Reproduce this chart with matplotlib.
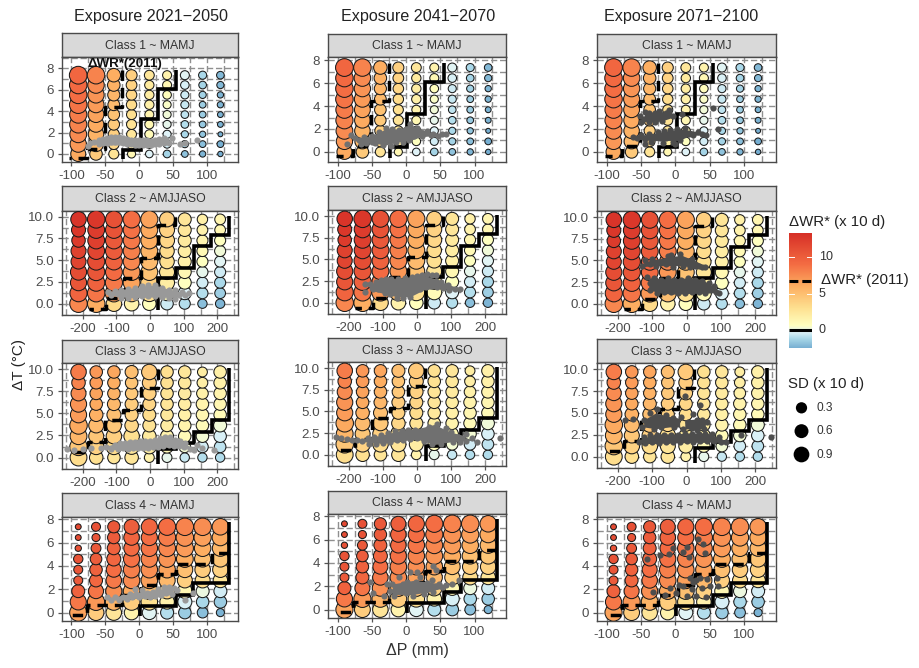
import numpy as np
import matplotlib
matplotlib.use('Agg')
import matplotlib.pyplot as plt
from matplotlib.colors import LinearSegmentedColormap, Normalize
from matplotlib.ticker import MultipleLocator, FormatStrFormatter

plt.rcParams['font.family'] = ['Liberation Sans', 'DejaVu Sans']
plt.rcParams['axes.unicode_minus'] = False

W, H = 919, 668

periods = ['Exposure 2021\u22122050', 'Exposure 2041\u22122070', 'Exposure 2071\u22122100']
strips = ['Class 1 ~ MAMJ', 'Class 2 ~ AMJJASO', 'Class 3 ~ AMJJASO', 'Class 4 ~ MAMJ']

dp_mamj = [-90, -63.75, -37.5, -11.25, 15, 41.25, 67.5, 93.75, 120]
dp_amj = [-212, -159.5, -107, -54.5, -2, 50.5, 103, 155.5, 208]
dt_mamj = [0, 0.92, 1.84, 2.76, 3.68, 4.6, 5.52, 6.44, 7.36]
dt_amj = [0, 1.21, 2.42, 3.64, 4.85, 6.06, 7.27, 8.48, 9.7]

# rows listed from lowest dT to highest dT
wr_c1 = [[6.2, 4.4, 2.8, 1.2, -.3, -1.3, -1.9, -2.3, -2.6],
         [7.0, 5.2, 3.5, 2, .6, -.5, -1.4, -2, -2.5],
         [7.6, 5.7, 4, 2.5, 1, -.3, -1.2, -1.8, -2.5],
         [8.0, 6.1, 4.4, 2.8, 1.2, -.1, -1, -1.7, -2.4],
         [8.3, 6.5, 4.8, 3.0, 1.5, .2, -.8, -1.6, -2.4],
         [8.7, 6.9, 5.2, 3.3, 1.8, .5, -.7, -1.5, -2.3],
         [9.0, 7.2, 5.5, 3.6, 2.1, .8, -.6, -1.4, -2.3],
         [9.3, 7.6, 5.8, 3.8, 2.3, 1.2, -.4, -1.3, -2.2],
         [9.5, 8, 6, 4, 2.5, 1.5, -.2, -1.2, -2.2]]
sd_c1 = [[.55, .3, .16, .08, .07, .07, .05, .04, .02],
         [.72, .55, .2, .13, .09, .08, .06, .05, .05],
         [.8, .6, .22, .15, .1, .08, .06, .04, .01],
         [.85, .62, .24, .16, .1, .08, .07, .05, .03],
         [.85, .65, .25, .16, .1, .08, .07, .05, .03],
         [.9, .68, .26, .18, .12, .08, .08, .05, .04],
         [.9, .72, .28, .19, .12, .09, .08, .06, .04],
         [.9, .75, .3, .2, .12, .1, .09, .07, .06],
         [.95, .9, .4, .22, .15, .1, .1, .08, .07]]
wr_c2 = [[7.8, 6, 3.4, 1.6, .7, -.6, -1, -2, -2.3],
         [9.6, 8.6, 7, 5, 3, 1, -.3, -1, -1.5],
         [10.6, 9.8, 8.4, 6.5, 4, 2, .6, -.5, -1.2],
         [11.2, 10.6, 9.2, 7, 4.8, 2.6, 1.2, -.1, -.6],
         [11.8, 11.2, 9.8, 7.8, 5.2, 3, 1.8, .6, -.2],
         [12, 11.8, 10.2, 8.2, 5.6, 3.2, 2, 1.1, .2],
         [12.5, 12.2, 10.4, 8.5, 6, 3.5, 2.3, 1.4, .6],
         [12.8, 12.4, 10.8, 8.8, 6.2, 3.8, 2.5, 1.6, 1.2],
         [13, 12.8, 11, 9, 6.5, 4, 2.6, 1.8, 1.4]]
sd_c2 = [[.9, .9, .6, .5, .4, .3, .22, .12, .12],
         [.85, .9, .9, .85, .8, .55, .35, .22, .2],
         [.7, .85, .85, .8, .85, .55, .35, .22, .22],
         [.7, .85, .8, .8, .8, .55, .35, .22, .22],
         [.55, .85, .8, .8, .8, .5, .35, .22, .22],
         [.55, .8, .8, .8, .8, .5, .35, .22, .22],
         [.4, .8, .8, .8, .8, .55, .35, .22, .22],
         [.45, .8, .8, .8, .8, .55, .35, .2, .2],
         [.6, .9, .8, .85, .85, .55, .35, .18, .2]]
wr_c3 = [[3.2, 3, 2.6, 2.6, 1.6, -.1, -.7, -1, -1.1],
         [4.6, 3.8, 3.2, 2.6, 2, 1, .3, -.5, -.8],
         [5.5, 4.6, 4, 3, 2.3, 1.6, 1, .3, -.4],
         [6.2, 5.2, 4.5, 3.5, 2.8, 2.1, 1.5, 1, .2],
         [6.8, 5.8, 5.0, 3.9, 3.2, 2.4, 1.8, 1.3, 1],
         [7.2, 6.2, 5.4, 4.2, 3.6, 2.6, 2, 1.5, 1.3],
         [7.6, 6.5, 5.7, 4.4, 3.9, 2.7, 2.2, 1.7, 1.5],
         [8, 6.8, 6, 4.7, 4.2, 2.9, 2.4, 1.9, 1.7],
         [8.3, 7, 6.3, 5, 4.4, 3, 2.5, 2, 1.8]]
sd_c3 = [[.8, .4, .3, .4, .15, .15, .12, .12, .12],
         [.9, .6, .6, .55, .45, .3, .25, .25, .25],
         [.8, .55, .6, .6, .4, .35, .3, .3, .3],
         [.9, .55, .55, .4, .35, .3, .3, .3, .35],
         [.7, .4, .45, .35, .35, .3, .3, .3, .3],
         [.7, .3, .35, .35, .35, .3, .3, .3, .3],
         [.55, .3, .3, .3, .4, .3, .3, .25, .3],
         [.4, .3, .3, .3, .45, .3, .3, .2, .3],
         [.6, .3, .3, .35, .6, .3, .3, .15, .3]]
wr_c4 = [[6.5, 4.2, 2.6, 1.5, -.2, -1, -1.6, -2, -2.4],
         [8.5, 7, 5.6, 4.2, 3, 1.6, -.4, -1.2, -1.6],
         [9.8, 8.6, 7.4, 6.2, 5, 3.8, 1.2, .1, -.5],
         [10.2, 9.4, 8.4, 7.6, 6.6, 5.4, 4, 3.2, 2.6],
         [10.6, 9.8, 9, 8.2, 7.4, 6.5, 5, 4.2, 3.8],
         [10.8, 10.1, 9.5, 8.8, 8, 7.2, 6, 5, 4.6],
         [11, 10.4, 9.8, 9.2, 8.6, 7.8, 6.8, 6, 5.4],
         [11.3, 10.7, 10.2, 9.6, 9, 8.3, 7.3, 6.6, 6.2],
         [11.5, 11, 10.5, 10, 9.5, 9, 8, 7.5, 7]]
sd_c4 = [[.85, .65, .6, .5, .45, .35, .3, .2, .08],
         [.7, .85, .8, .8, .75, .5, .45, .3, .3],
         [.35, .55, .7, .75, .75, .6, .5, .35, .35],
         [.1, .35, .6, .75, .75, .7, .55, .55, .5],
         [.1, .3, .55, .75, .75, .75, .65, .6, .6],
         [.12, .25, .45, .7, .75, .8, .8, .7, .7],
         [.04, .15, .35, .6, .75, .8, .85, .75, .7],
         [.03, .08, .3, .6, .7, .85, .9, .85, .75],
         [.03, .1, .28, .55, .7, .85, .9, .9, .75]]

# zero contour (solid) and 2011 contour (dashed)
solid_c1 = [(55, 7.8), (55, 6.1), (28, 6.1), (28, 3.3), (2, 3.3), (2, .4), (-24, .4), (-24, -.5)]
dash_c1 = [(-25, 7.8), (-25, 4.4), (-51, 4.4), (-51, .5), (-77, .5), (-77, -.4), (-103, -.4)]
solid_c2 = [(235, 10.1), (235, 7.9), (181, 7.9), (181, 6.6), (130, 6.6), (130, 4.1), (77, 4.1), (77, 3), (25, 3), (25, -.7)]
dash_c2 = [(75, 10), (75, 9), (25, 9), (25, 5.3), (-26, 5.3), (-26, 3), (-78, 3), (-78, .6), (-130, .6), (-130, -.6), (-182, -.6)]
solid_c3 = [(235, 10.1), (235, 4.2), (183, 4.2), (183, 2.9), (130, 2.9), (130, 1.7), (78, 1.7), (78, 1), (25, 1), (25, -.7)]
dash_c3 = [(23, 10), (23, 7.9), (-26, 7.9), (-26, 5.4), (-80, 5.4), (-80, 4.2), (-133, 4.2), (-133, 1.8), (-183, 1.8), (-183, .6), (-235, .6)]
solid_c4 = [(133, 7.8), (133, 2.5), (80, 2.5), (80, 1.5), (55, 1.5), (55, .6), (1, .6), (1, -.3)]
dash_c4 = [(133, 5.1), (107, 5.1), (107, 4.2), (55, 4.2), (55, 3.3), (28, 3.3), (28, 2.4), (3, 2.4), (3, 1.5), (-25, 1.5), (-25, .65), (-77, .65), (-77, -.2), (-103, -.2)]

# exposure clouds (dP, dT)
exp_c1_p1 = [(-76,.7),(-72,1.0),(-66,1.1),(-60,1.3),(-54,1.4),(-48,1.5),(-42,1.6),(-36,1.6),(-30,1.6),(-24,1.5),(-18,1.4),(-12,1.3),(-6,1.3),(0,1.3),(6,1.3),(12,1.3),(18,1.25),(24,1.3),(30,1.4),(36,1.5),(40,1.3),(44,1.0),(-60,.9),(-54,1.0),(-48,1.0),(-42,1.1),(-36,1.1),(-30,1.1),(-24,1.0),(-18,.95),(-12,.9),(-6,.85),(0,.8),(6,.8),(12,.8),(18,.85),(24,.9),(30,.95),(36,1.0),(48,1.5),(60,.9),(68,1.0),(85,1.3)]
exp_c1_p2 = [(-86,.7),(-81,1.45),(-74,1.2),(-68,1.0),(-62,1.3),(-56,1.0),(-50,1.4),(-46,.8),(-40,1.7),(-38,1.1),(-34,.6),(-30,2.1),(-28,1.5),(-26,1.0),(-22,.5),(-20,2.0),(-18,1.4),(-14,.9),(-10,1.9),(-8,1.4),(-4,.9),(0,2.0),(2,1.5),(4,1.0),(6,2.4),(10,1.9),(12,1.4),(16,2.1),(20,1.7),(24,1.4),(30,1.8),(36,1.5),(40,1.6),(46,1.4),(52,1.6),(58,1.6),(-66,.7),(-58,.75),(-50,.9)]
exp_c1_p3 = [(-52,3.1),(-46,2.9),(-44,3.5),(-38,3.4),(-34,3.0),(-30,3.4),(-24,3.6),(-20,3.2),(-14,3.4),(-10,3.7),(-4,3.1),(-38,2.6),(-30,2.6),(-20,2.7),(-50,2.6),(10,3.3),(-62,1.3),(-56,1.2),(-50,1.5),(-44,1.1),(-38,1.6),(-32,1.2),(-26,1.7),(-22,1.2),(-16,1.8),(-14,1.2),(-8,1.9),(-6,1.4),(-4,.9),(2,2.0),(4,1.5),(6,1.0),(12,1.6),(14,2.1),(20,1.6),(26,1.5),(32,1.7),(38,1.6),(44,1.5),(-45,.7),(55,3.8),(62,2.0),(-35,.9),(-18,.8),(0,.7)]
exp_c2_p1 = [(-125,1.3),(-105,1.5),(-85,1.6),(-65,1.7),(-45,1.8),(-25,2.0),(-5,2.1),(15,2.1),(35,1.8),(55,1.6),(75,1.6),(95,1.4),(115,1.2),(-115,.95),(-95,1.1),(-75,1.1),(-55,1.2),(-35,1.3),(-15,1.4),(5,1.4),(25,1.3),(45,1.2),(65,1.1),(85,1.0),(105,1.0),(-85,.7),(-65,.7),(-45,.75),(-25,.85),(-5,.85),(15,.85),(35,.8),(55,.65),(75,.55)]
exp_c2_p2 = [(-153,2.2),(-153,1.2),(-138,2.2),(-130,1.6),(-120,2.4),(-115,1.6),(-105,2.6),(-100,1.8),(-95,1.1),(-90,2.7),(-85,1.9),(-80,1.0),(-75,2.7),(-70,2.0),(-65,1.2),(-60,.6),(-55,2.8),(-50,2.1),(-45,1.4),(-40,.6),(-35,2.9),(-30,2.2),(-25,1.5),(-20,.7),(-15,3.0),(-10,2.3),(-5,1.5),(0,3.1),(5,2.3),(10,1.6),(15,3.2),(20,2.5),(25,1.8),(30,3.3),(35,2.6),(40,1.9),(45,3.2),(55,3.2),(55,2.5),(60,1.8),(70,2.4),(75,1.7),(90,2.0),(95,1.5),(110,1.6),(125,1.6)]
exp_c2_p3 = [(-130,4.4),(-120,5.0),(-105,4.6),(-100,5.2),(-90,4.4),(-60,4.6),(-55,5.5),(-50,4.9),(-45,5.6),(-40,4.3),(-30,4.8),(-20,5.8),(-15,5.2),(-10,4.4),(0,4.8),(10,4.2),(15,5.2),(25,4.4),(35,4.4),(45,4.2),(55,4.2),(-115,3.1),(-105,2.4),(-105,1.6),(-95,3.0),(-90,1.9),(-85,1.2),(-75,2.8),(-70,2.0),(-65,1.4),(-55,3.0),(-50,2.2),(-45,1.4),(-35,2.8),(-30,2.0),(-25,1.2),(-15,2.8),(-10,2.0),(-5,1.2),(5,3.0),(10,2.2),(15,1.4),(25,2.8),(30,2.1),(35,1.4),(45,2.6),(50,1.9),(55,1.2),(65,2.4),(70,1.7),(80,2.0),(85,1.4),(95,1.3)]
exp_c3_p1 = [(-245,1.0),(-225,.9),(-200,1.0),(-175,1.05),(-145,1.1),(-130,1.2),(-115,1.0),(-105,1.4),(-95,1.0),(-90,1.6),(-80,1.1),(-75,1.7),(-65,1.0),(-60,1.8),(-50,1.1),(-45,1.8),(-35,1.1),(-30,1.9),(-20,1.1),(-15,1.9),(-5,1.1),(0,1.9),(10,1.2),(15,2.0),(25,1.2),(30,2.2),(40,1.3),(45,2.3),(55,1.4),(60,2.3),(70,1.3),(75,2.0),(85,1.3),(90,1.9),(100,1.2),(105,1.6),(120,1.0),(130,.9),(155,1.05),(190,.85),(140,1.4),(-60,1.4),(-30,1.5),(0,1.5),(30,1.7),(60,1.8)]
exp_c3_p2 = [(-237,2.05),(-222,1.9),(-205,1.85),(-190,1.75),(-175,1.7),(-160,1.6),(-145,1.9),(-140,1.3),(-125,2.1),(-120,1.3),(-105,2.3),(-100,1.4),(-85,2.5),(-80,1.5),(-65,2.7),(-60,1.7),(-45,2.8),(-40,1.7),(-25,2.9),(-20,1.8),(-5,2.9),(0,1.9),(15,2.8),(20,1.6),(35,3.2),(40,2.3),(45,1.2),(55,3.0),(60,3.6),(65,2.2),(70,1.2),(85,3.1),(85,2.0),(100,2.6),(105,1.5),(120,2.0),(125,1.5),(145,2.4),(145,1.6),(160,1.9),(175,1.5),(243,1.9),(-65,2.0),(-30,2.3),(5,2.4)]
exp_c3_p3 = [(-138,1.7),(-125,2.3),(-120,1.6),(-105,2.5),(-100,1.7),(-85,2.5),(-80,1.6),(-65,2.5),(-60,1.7),(-45,2.5),(-40,1.7),(-25,2.5),(-20,1.7),(-5,2.6),(0,1.8),(15,2.6),(20,1.7),(35,2.6),(40,1.8),(55,2.6),(60,1.8),(75,2.6),(80,1.8),(95,2.3),(100,1.7),(115,1.7),(-180,4.2),(-155,4.3),(-130,3.4),(-125,4.2),(-105,5.0),(-100,3.9),(-95,3.2),(-85,5.5),(-80,4.4),(-75,3.4),(-60,4.8),(-55,3.8),(-40,4.4),(-35,3.4),(-15,4.5),(-10,3.2),(-3,6.9),(5,4.0),(15,3.3),(20,4.9),(30,4.2),(30,3.0),(40,5.9),(45,4.2),(50,3.2),(60,4.0),(247,2.2),(159,2.5)]
exp_c4_p1 = [(-48,1.3),(-42,1.1),(-36,1.3),(-30,1.1),(-24,1.3),(-18,1.2),(-14,1.6),(-10,1.3),(-6,2.0),(-4,1.6),(0,1.3),(4,1.9),(8,1.4),(12,1.7),(16,1.3),(20,1.8),(24,1.4),(28,2.0),(32,1.5),(36,2.2),(40,1.7),(44,2.2),(48,1.6),(52,2.1),(56,1.9),(68,1.1),(80,1.7)]
exp_c4_p2 = [(-53,2.4),(-48,1.4),(-32,1.2),(-28,2.2),(-24,1.6),(-20,2.2),(-18,1.2),(-11,2.8),(-8,1.8),(-4,2.2),(0,1.4),(2,2.4),(6,3.2),(8,1.9),(10,1.2),(14,2.4),(16,3.2),(18,1.7),(20,2.8),(24,2.0),(26,1.3),(30,2.3),(32,1.8),(36,1.9),(40,3.7),(40,1.5),(44,3.4),(44,2.0),(48,2.2),(52,1.9),(58,2.1),(67,2.2),(77,2.5),(38,2.5)]
exp_c4_p3 = [(33,6.3),(40,5.9),(43,5.1),(-42,4.6),(-23,4.9),(-3,5.5),(11,5.2),(16,5.6),(-10,5.0),(19,4.8),(-33,1.8),(-8,2.1),(1,1.7),(11,2.3),(26,2.6),(36,3.0),(60,3.0),(50,2.3),(62,2.3),(16,1.4),(30,1.4),(45,1.3),(21,3.0),(30,2.8),(24,2.0),(38,2.1),(5,2.4),(-15,1.5),(46,2.9)]

# solid parts of the clouds, read as dP, lower dT edge, upper dT edge
band_c1_p1 = [([-62,-50,-30,0,20,38], [.9,.85,.85,.75,.8,1.0], [1.3,1.5,1.6,1.3,1.25,1.45])]
band_c1_p2 = [([-70,-50,-30,-10,6,20,35,50], [.8,.8,.6,.9,1.0,1.3,1.4,1.4], [1.2,1.4,2.0,2.0,2.4,2.0,1.7,1.6])]
band_c1_p3 = [([-55,-35,-15,5,20,35], [1.1,1.0,1.0,1.0,1.4,1.5], [1.4,1.6,1.8,2.0,1.9,1.7]),
              ([-45,-30,-15,-5], [2.7,2.6,2.8,3.0], [3.4,3.5,3.5,3.4])]
band_c2_p1 = [([-120,-90,-50,-10,20,60,100], [1.0,.8,.7,.75,.8,.7,.95], [1.4,1.6,1.8,2.1,2.1,1.6,1.3])]
band_c2_p2 = [([-140,-100,-60,-20,20,60,100,125], [1.5,1.1,.7,.7,1.5,1.7,1.5,1.5], [2.2,2.6,2.8,3.0,3.2,2.6,2.0,1.7])]
band_c2_p3 = [([-110,-70,-30,10,50,90], [1.6,1.2,1.1,1.2,1.2,1.3], [3,2.9,2.9,3,2.7,1.6]),
              ([-125,-95,-55,-15,25,55], [4.3,4.4,4.4,4.4,4.2,4.1], [4.8,5.1,5.4,5.6,5,4.3])]
band_c3_p1 = [([-140,-100,-50,0,50,100,125], [1.0,.9,.95,1,1.2,1.1,.95], [1.2,1.6,1.9,2,2.3,1.7,1.1])]
band_c3_p2 = [([-155,-100,-50,0,50,100,140], [1.5,1.3,1.6,1.8,1.2,1.5,1.6], [1.9,2.3,2.8,3,3.5,2.6,2.2])]
band_c3_p3 = [([-135,-90,-40,10,60,110], [1.6,1.5,1.6,1.6,1.7,1.6], [2.0,2.6,2.6,2.7,2.7,1.9]),
              ([-125,-90,-50,-20], [3.4,3.2,3.4,3.4], [4.2,5,4.6,4.4]),
              ([-5,25,55], [3.2,3.1,3.3], [4.2,4.3,4.1])]
band_c4_p1 = [([-40,-10,20,50], [1.1,1.2,1.3,1.6], [1.3,1.7,1.9,2.2])]
band_c4_p2 = [([-20,10,30,50], [1.3,1.3,1.5,1.8], [2.2,2.5,2.4,2.2])]
band_c4_p3 = []

wr_all = [wr_c1, wr_c2, wr_c3, wr_c4]
sd_all = [sd_c1, sd_c2, sd_c3, sd_c4]
solid_all = [solid_c1, solid_c2, solid_c3, solid_c4]
dash_all = [dash_c1, dash_c2, dash_c3, dash_c4]
exp_all = [[exp_c1_p1, exp_c1_p2, exp_c1_p3], [exp_c2_p1, exp_c2_p2, exp_c2_p3],
           [exp_c3_p1, exp_c3_p2, exp_c3_p3], [exp_c4_p1, exp_c4_p2, exp_c4_p3]]
band_all = [[band_c1_p1, band_c1_p2, band_c1_p3], [band_c2_p1, band_c2_p2, band_c2_p3],
            [band_c3_p1, band_c3_p2, band_c3_p3], [band_c4_p1, band_c4_p2, band_c4_p3]]

cb_ticks = [0, 5, 10]
sd_legend = [0.3, 0.6, 0.9]

# layout in pixels
col_lr = [(62, 238), (328, 506), (597, 776)]
row_px = [[(33, 57, 162), (34, 57, 162), (34, 57, 162)],
          [(186, 210.5, 315), (186, 210, 314), (186, 211, 315)],
          [(340, 363, 469), (338, 362, 466), (339, 363, 468)],
          [(493, 517, 621), (491, 514, 618), (493, 517, 621)]]
cloud_col = ['#999999', '#707070', '#4d4d4d']
stops = [(-2.6, '#74add1'), (-1.2, '#abd9e9'), (-.3, '#e0f3f8'), (.6, '#ffffbf'),
         (3, '#fee090'), (6, '#fdae61'), (9, '#f46d43'), (13.3, '#d73027')]
vmin, vmax = stops[0][0], stops[-1][0]
cmap = LinearSegmentedColormap.from_list('wr', [((v - vmin) / (vmax - vmin), c) for v, c in stops])
norm = Normalize(vmin, vmax)

def px_axes(l, t, r, b):
    return fig.add_axes([l / W, 1 - b / H, (r - l) / W, (b - t) / H])

def size_of(sd, scale=1.0):
    d_px = np.interp(sd, [0, .1, .3, .6, .9, 1.2], [4.5, 9, 12.5, 15.5, 17.5, 19])
    return (d_px * scale * 0.72) ** 2

fig = plt.figure(figsize=(W / 100, H / 100), dpi=100)
fig.patch.set_facecolor('white')
TC = '#4d4d4d'

for r in range(4):
    mamj = r in (0, 3)
    xs, ys = (dp_mamj, dt_mamj) if mamj else (dp_amj, dt_amj)
    gx, gy = np.meshgrid(xs, ys)
    for c in range(3):
        st, sb, pb = row_px[r][c]
        l, rt = col_lr[c]
        sa = px_axes(l, st, rt, sb)
        sa.set_facecolor('#d9d9d9')
        sa.set_xticks([]); sa.set_yticks([])
        for s in sa.spines.values():
            s.set_color('#4a4a4a'); s.set_linewidth(1.0)
        sa.text(.5, .47, strips[r], ha='center', va='center', fontsize=8.8, color='#333333', transform=sa.transAxes)

        ax = px_axes(l, sb, rt, pb)
        if mamj:
            ax.set_xlim(-114, 146)
            if r == 0 and c == 0:
                ax.set_ylim(-.75, 9.06)
            elif r == 0:
                ax.set_ylim(-.88, 8.28)
            else:
                ax.set_ylim(-.72, 8.2)
            ax.xaxis.set_major_locator(MultipleLocator(50)); ax.xaxis.set_minor_locator(MultipleLocator(25))
            ax.yaxis.set_major_locator(MultipleLocator(2)); ax.yaxis.set_minor_locator(MultipleLocator(1))
            ax.yaxis.set_major_formatter(FormatStrFormatter('%d'))
        else:
            ax.set_xlim(-261, 261)
            ax.set_ylim(-1.3, 10.72)
            ax.xaxis.set_major_locator(MultipleLocator(100)); ax.xaxis.set_minor_locator(MultipleLocator(50))
            ax.yaxis.set_major_locator(MultipleLocator(2.5)); ax.yaxis.set_minor_locator(MultipleLocator(1.25))
            ax.yaxis.set_major_formatter(FormatStrFormatter('%.1f'))
        ax.xaxis.set_major_formatter(FormatStrFormatter('%d'))
        ax.set_axisbelow(True)
        ax.grid(True, which='both', color='#8f8f8f', lw=1.0, ls=(0, (4.5, 2)))
        ax.tick_params(which='major', length=3, width=.9, color='#555555', labelsize=9.6, labelcolor=TC, pad=2.5)
        ax.tick_params(which='minor', length=0)
        for s in ax.spines.values():
            s.set_color('#4a4a4a'); s.set_linewidth(1.0)
        ax.scatter(gx.ravel(), gy.ravel(), s=size_of(np.array(sd_all[r]).ravel()),
                   c=np.array(wr_all[r]).ravel(), cmap=cmap, norm=norm,
                   edgecolors='#1a1a1a', linewidths=.75, zorder=3)
        dx, dy = zip(*dash_all[r])
        ax.plot(dx, dy, color='black', lw=2.5, ls=(0, (3, 2)), zorder=4, solid_joinstyle='miter')
        sx, sy = zip(*solid_all[r])
        ax.plot(sx, sy, color='black', lw=2.6, zorder=4, solid_joinstyle='miter', solid_capstyle='butt')
        for bx, blo, bhi in band_all[r][c]:
            ax.fill_between(bx, blo, bhi, color=cloud_col[c], lw=0, zorder=5)
        ex, ey = zip(*exp_all[r][c])
        ax.scatter(ex, ey, s=(6.2 * .72) ** 2, color=cloud_col[c], linewidths=0, zorder=5)

for x, t in zip([151, 418, 681], periods):
    fig.text(x / W, 1 - 16 / H, t, ha='center', va='center', fontsize=11.6, color='#222222')
fig.text(19 / W, 1 - 365 / H, '\u0394T (\u00b0C)', rotation=90, ha='center', va='center', fontsize=11, color='#222222')
fig.text(417 / W, 1 - 650 / H, '\u0394P (mm)', ha='center', va='center', fontsize=11.5, color='#333333')
fig.text(87 / W, 1 - 64 / H, '\u0394WR*(2011)', ha='left', va='center', fontsize=9.6, color='#111111', fontweight='bold')

# colour legend
fig.text(789 / W, 1 - 222 / H, '\u0394WR* (x 10 d)', ha='left', va='center', fontsize=10.8, color='#222222')
cax = px_axes(789, 233, 812, 348)
cb_lo, cb_hi = -2.47, 13.3
grad = np.linspace(cb_hi, cb_lo, 200).reshape(-1, 1)
cax.imshow(grad, aspect='auto', cmap=cmap, norm=norm, extent=[0, 1, cb_lo, cb_hi])
cax.axis('off')
for v in cb_ticks[1:]:
    cax.plot([0, .2], [v, v], color='white', lw=.7)
    cax.plot([.8, 1], [v, v], color='white', lw=.7)
cax.plot([0, 1], [0, 0], color='black', lw=2.2, solid_capstyle='butt')
cax.plot([0, 1], [6.75, 6.75], color='black', lw=2.2, ls=(0, (2.9, 1.3)))
cax.set_xlim(0, 1); cax.set_ylim(cb_lo, cb_hi)
for v in cb_ticks:
    cax.annotate(str(v), xy=(1, v), xycoords=('axes fraction', 'data'), xytext=(5, 0),
                 textcoords='offset points', va='center', ha='left', fontsize=9, color='#333333')
fig.text(821 / W, 1 - 280 / H, '\u0394WR* (2011)', ha='left', va='center', fontsize=10.8, color='#222222')

# size legend
fig.text(788 / W, 1 - 384 / H, 'SD (x 10 d)', ha='left', va='center', fontsize=10.8, color='#222222')
lax = px_axes(788, 395, 815, 465)
lax.axis('off')
lax.set_xlim(0, 1); lax.set_ylim(3, 0)
lax.scatter([.5] * 3, [.55, 1.55, 2.55], s=size_of(np.array(sd_legend), .9), color='black', linewidths=0, clip_on=False)
for y, v in zip([.55, 1.55, 2.55], sd_legend):
    lax.annotate(f'{v:.1f}', xy=(1, y), xycoords=('axes fraction', 'data'), xytext=(1, 0),
                 textcoords='offset points', va='center', ha='left', fontsize=8.6, color='#333333')

fig.savefig('out.png', dpi=100)
